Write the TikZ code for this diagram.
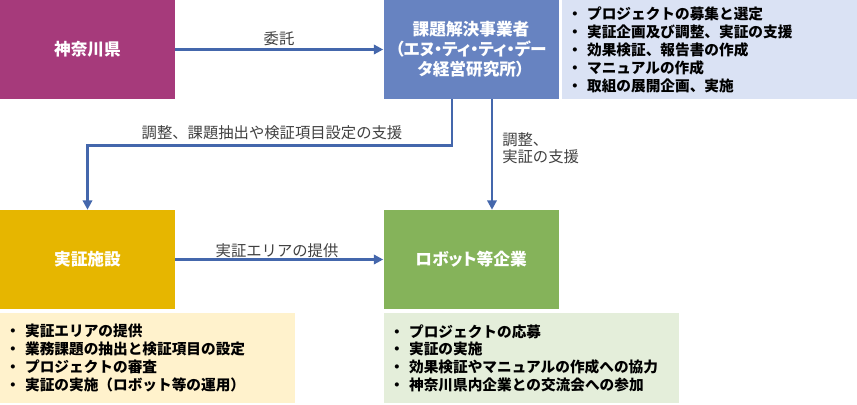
\documentclass[tikz,border=0pt]{standalone}
\usepackage{fontspec}
\setmainfont{Noto Sans CJK JP}
\usetikzlibrary{arrows.meta}
\definecolor{kencol}{HTML}{A63A7B}
\definecolor{kadaicol}{HTML}{6783C1}
\definecolor{shisetsucol}{HTML}{E6B600}
\definecolor{robotcol}{HTML}{85B35A}
\definecolor{kadaimemo}{HTML}{DAE2F4}
\definecolor{shisetsumemo}{HTML}{FFF2CC}
\definecolor{robotmemo}{HTML}{E4EEDA}
\definecolor{flowcol}{HTML}{4467AC}
\definecolor{labelcol}{HTML}{404040}
\begin{document}
\begin{tikzpicture}[x=0.75pt,y=-0.75pt]
    \tikzstyle{actor}=[rectangle,text width=131.25pt,minimum height=74.25pt,inner sep=0pt,text=white,align=center,font=\fontsize{12.5}{15}\selectfont\bfseries\addfontfeatures{RawFeature=+palt}]
    \tikzstyle{memo}=[rectangle,anchor=north west,text width=213.25pt,inner xsep=4pt,inner ysep=0pt,align=left,font=\fontsize{11}{13.4}\selectfont\bfseries]
    \tikzstyle{flow}=[draw=flowcol,line width=2pt,-{Triangle[length=7pt,width=7pt]}]
    \tikzstyle{flowlabel}=[text=labelcol,inner sep=0pt,font=\fontsize{11.5}{12.75}\selectfont]
    \useasboundingbox (0,0) rectangle (857,404);
    \node[actor,fill=kencol] (ken) at (87.5,49.5) {神奈川県};
    \node[actor,fill=kadaicol] (kadai) at (471,49.5) {課題解決事業者\\（エヌ・ティ・ティ・デー\\タ経営研究所）};
    \node[actor,fill=shisetsucol] (shisetsu) at (87.5,259.5) {実証施設};
    \node[actor,fill=robotcol] (robot) at (471,259.5) {ロボット等企業};
    \node[memo,fill=kadaimemo,minimum height=74.25pt] (kadaiwork) at (562,0)
        {・ プロジェクトの募集と選定\\・ 実証企画及び調整、実証の支援\\・ 効果検証、報告書の作成\\・ マニュアルの作成\\・ 取組の展開企画、実施};
    \node[memo,fill=shisetsumemo,minimum height=67.5pt] (shisetsuwork) at (0,313)
        {・ 実証エリアの提供\\・ 業務課題の抽出と検証項目の設定\\・ プロジェクトの審査\\・ 実証の実施（ロボット等の運用）};
    \node[memo,fill=robotmemo,minimum height=67.5pt] (robotwork) at (384,313)
        {・ プロジェクトの応募\\・ 実証の実施\\・ 効果検証やマニュアルの作成への協力\\・ 神奈川県内企業との交流会への参加};
    \draw[flow] (ken.east) -- (kadai.west);
    \draw[flow] ([xshift=-14.25pt]kadai.south) -- ++(0,46) -| (shisetsu.north);
    \draw[flow] ([xshift=15.75pt]kadai.south) -- ([xshift=15.75pt]robot.north);
    \draw[flow] (shisetsu.east) -- (robot.west);
    \node[flowlabel] (itaku) at (279,38.5) {委託};
    \node[flowlabel] (shien) at (272,133) {調整、課題抽出や検証項目設定の支援};
    \node[flowlabel,anchor=north west,align=left] (jisshou) at (502,132) {調整、\\実証の支援};
    \node[flowlabel] (teikyou) at (277,251) {実証エリアの提供};
\end{tikzpicture}
\end{document}
